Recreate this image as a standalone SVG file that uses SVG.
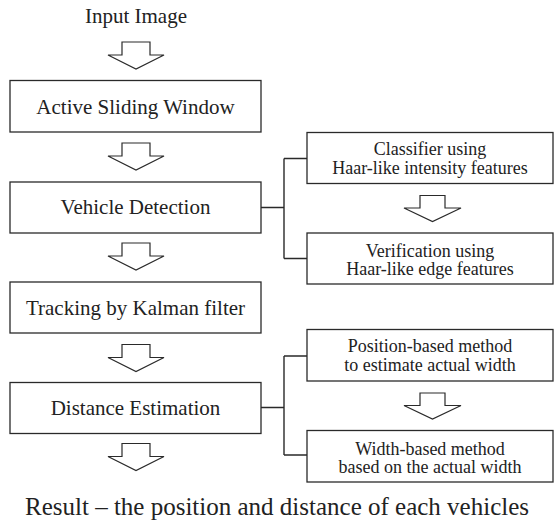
<svg xmlns="http://www.w3.org/2000/svg" width="555" height="522" viewBox="0 0 555 522">
  <defs>
    <style>
      .box { fill: #fff; stroke: #2a2a2a; stroke-width: 1.3; }
      .wire { fill: none; stroke: #2a2a2a; stroke-width: 1.4; }
      .flow { fill: #fff; stroke: #2a2a2a; stroke-width: 1.2; stroke-linejoin: miter; }
      text { font-family: "Liberation Serif", Tinos, "DejaVu Serif", "Times New Roman", Times, serif; fill: #222; text-anchor: middle; }
      .big { font-size: 21px; }
      .small { font-size: 18px; }
      .result { font-size: 25px; text-anchor: start; }
    </style>
    <!-- hollow block arrow, tip at (0,0) pointing down -->
    <path id="blk" d="M-14,-27 H14 V-14 H28 L0,0 L-28,-14 H-14 Z"/>
    <path id="blk2" d="M-12.5,-26 H12.5 V-13.5 H28.5 L0,0 L-28.5,-13.5 H-12.5 Z"/>
  </defs>

  <text class="big" x="136" y="23">Input Image</text>

  <g id="flow-arrows">
    <use href="#blk" class="flow" x="136" y="69"/>
    <use href="#blk" class="flow" x="136" y="170"/>
    <use href="#blk" class="flow" x="136" y="270"/>
    <use href="#blk" class="flow" x="136" y="371.5"/>
    <use href="#blk" class="flow" x="136" y="470.5"/>
    <use href="#blk2" class="flow" x="432.5" y="221.5"/>
    <use href="#blk2" class="flow" x="432.5" y="419"/>
  </g>

  <g id="connectors">
    <path class="wire" d="M261,207.5 H284 M284,158.5 V258.5 M284,158.5 H307 M284,258.5 H307"/>
    <path class="wire" d="M261,407.5 H284 M284,356 V455 M284,356 H307 M284,455 H307"/>
  </g>

  <g id="active-sliding-window">
    <rect class="box" x="10" y="80.5" width="251" height="51.5"/>
    <text class="big" x="135.5" y="114">Active Sliding Window</text>
  </g>

  <g id="vehicle-detection">
    <rect class="box" x="10" y="182" width="251" height="51"/>
    <text class="big" x="135.5" y="213.5">Vehicle Detection</text>
  </g>

  <g id="tracking">
    <rect class="box" x="10" y="282" width="251" height="51"/>
    <text class="big" x="135.5" y="315">Tracking by Kalman filter</text>
  </g>

  <g id="distance-estimation">
    <rect class="box" x="10" y="382.5" width="251" height="51"/>
    <text class="big" x="135.5" y="415">Distance Estimation</text>
  </g>

  <g id="classifier">
    <rect class="box" x="307" y="132.5" width="246" height="51"/>
    <text class="small" x="430" y="155">Classifier using</text>
    <text class="small" x="430" y="173.5">Haar-like intensity features</text>
  </g>

  <g id="verification">
    <rect class="box" x="307" y="233" width="246" height="51"/>
    <text class="small" x="430" y="256.5">Verification using</text>
    <text class="small" x="430" y="275">Haar-like edge features</text>
  </g>

  <g id="position-based">
    <rect class="box" x="307" y="329.5" width="246" height="51.5"/>
    <text class="small" x="430" y="352">Position-based method</text>
    <text class="small" x="430" y="370.5">to estimate actual width</text>
  </g>

  <g id="width-based">
    <rect class="box" x="307" y="430.5" width="246" height="51.5"/>
    <text class="small" x="430" y="454.5">Width-based method</text>
    <text class="small" x="430" y="473">based on the actual width</text>
  </g>

  <text class="result" x="25" y="515">Result – the position and distance of each vehicles</text>
</svg>
